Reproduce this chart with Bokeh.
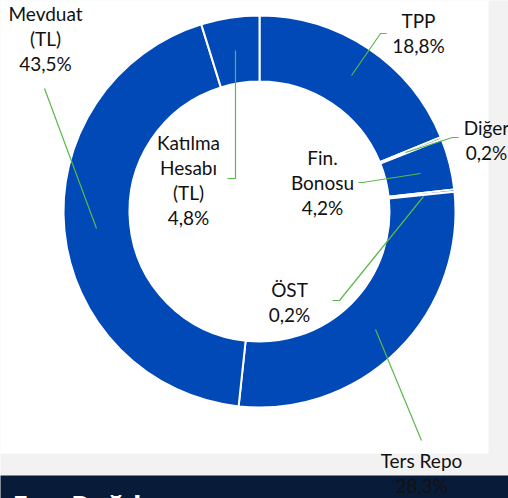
import math
from bokeh.plotting import figure
from bokeh.models import Range1d, ColumnDataSource
from bokeh.core.properties import value
from bokeh.embed import file_html
from bokeh.resources import INLINE

# ---- data (clockwise from 12 o'clock) ----
categories = ["TPP", "Diğer", "Fin. Bonosu", "ÖST", "Ters Repo", "Mevduat (TL)", "Katılma Hesabı (TL)"]
shares = [18.8, 0.2, 4.2, 0.2, 28.3, 43.5, 4.8]
label_lines = [["TPP"], ["Diğer"], ["Fin.", "Bonosu"], ["ÖST"], ["Ters Repo"], ["Mevduat", "(TL)"],
               ["Katılma", "Hesabı", "(TL)"]]
title_text = "Fon Dağılımı"

# ---- layout (reference pixel coordinates; y is negated for plotting) ----
W, H = 508, 498
CX, CY = 259, 211
R_OUT, R_IN = 196, 130
label_pos = [(418, 20), (486, 127), (322, 157), (289, 289), (421, 460), (45, 13), (188, 142)]
LINE_STEP = 25.0
leaders = [
    ([351, 380, 386], [75, 33, 33]),
    ([405, 452, 458], [152, 137, 137]),
    ([420, 362, 358], [173, 182, 182]),
    ([423, 339, 332], [196, 300, 300]),
    ([375, 421], [329, 440]),
    ([96, 44], [228, 88]),
    ([235, 235, 227], [50, 178, 178]),
]

BLUE = "#0049B7"
GREEN = "#5BB84A"
NAVY = "#081C3A"
FONT = "Lato"

p = figure(width=W, height=H, x_range=Range1d(0, W), y_range=Range1d(-H, 0),
           x_axis_type=None, y_axis_type=None, toolbar_location=None,
           output_backend="svg", min_border=0, outline_line_color=None)
p.grid.visible = False
p.background_fill_color = "#F2F2F2"
p.border_fill_color = "#F2F2F2"

# backgrounds
p.quad(left=[-10], right=[488], top=[10], bottom=[-453], fill_color="white", line_color=None)
p.quad(left=[-10], right=[520], top=[-475], bottom=[-520], fill_color=NAVY, line_color=None)

# donut
total = sum(shares)
starts, ends = [], []
c = 0.0
for s in shares:
    c0 = c
    c1 = c + s / total
    ends.append(math.pi / 2 - c0 * 2 * math.pi)
    starts.append(math.pi / 2 - c1 * 2 * math.pi)
    c = c1
src = ColumnDataSource(dict(start=starts, end=ends, cat=categories, share=shares))
p.annular_wedge(x=CX, y=-CY, inner_radius=R_IN, outer_radius=R_OUT,
                start_angle="start", end_angle="end", direction="anticlock",
                fill_color=BLUE, line_color="white", line_width=2, source=src)

# leader lines
for xs, ys in leaders:
    p.line(xs, [-y for y in ys], line_color=GREEN, line_width=1.2)

# labels
tx, ty, tt = [], [], []
for lines, s, (lx, ly) in zip(label_lines, shares, label_pos):
    allines = lines + [("%.1f" % s).replace(".", ",") + "%"]
    for k, t in enumerate(allines):
        tx.append(lx)
        ty.append(-(ly + k * LINE_STEP))
        tt.append(t)
p.text(x=tx, y=ty, text=tt, text_align="center", text_baseline="middle",
       text_font=value(FONT), text_font_size="19px", text_color="#111111")

# title band text (mostly cut off at bottom)
p.text(x=[12], y=[-486], text=[title_text], text_align="left", text_baseline="top",
       text_font=value("Open Sans"), text_font_style="bold", text_font_size="28px",
       text_color="white")

open("out.html", "w").write(file_html(p, INLINE))
